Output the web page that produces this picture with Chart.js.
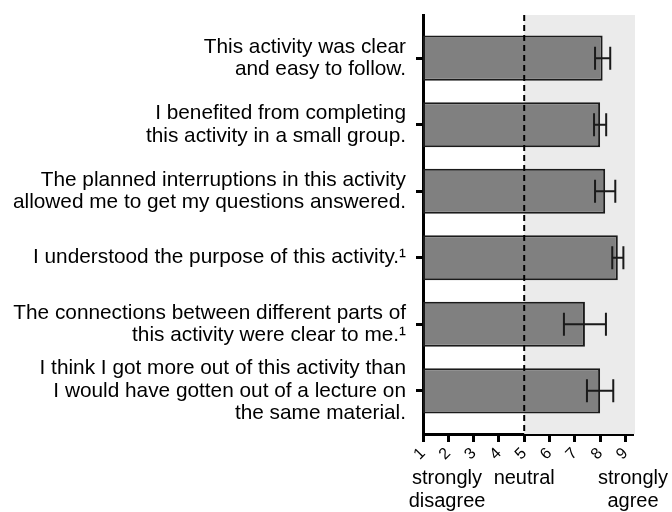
<!DOCTYPE html>
<html>
<head>
<meta charset="utf-8">
<script src="https://cdn.jsdelivr.net/npm/chart.js@4/dist/chart.umd.min.js"></script>
<style>
  html, body { margin: 0; padding: 0; background: #fff; }
  #wrap { width: 672px; height: 512px; }
</style>
</head>
<body>
<div id="wrap"><canvas id="chart" width="672" height="512"></canvas></div>
<script>
// survey statements (y axis)
const statements = [
    ['This activity was clear', 'and easy to follow.'],
    ['I benefited from completing', 'this activity in a small group.'],
    ['The planned interruptions in this activity', 'allowed me to get my questions answered.'],
    ['I understood the purpose of this activity.\u00b9'],
    ['The connections between different parts of', 'this activity were clear to me.\u00b9'],
    ['I think I got more out of this activity than', 'I would have gotten out of a lecture on', 'the same material.']
];

// mean rating and error (1-9 scale)
const means = [8.1, 8.0, 8.2, 8.7, 7.4, 8.0];
const errors = [0.3, 0.24, 0.4, 0.22, 0.83, 0.52];

const scaleTicks = [1, 2, 3, 4, 5, 6, 7, 8, 9];
const anchorLabels = [
    { value: 1.95, lines: ['strongly', 'disagree'] },
    { value: 5, lines: ['neutral'] },
    { value: 9.3, lines: ['strongly', 'agree'] }
];
const neutralValue = 5;

const fontFamily = "'Liberation Sans', Arial, sans-serif";

// shaded agree region + dashed neutral line + error bars + anchor labels
const decorations = {
    id: 'decorations',
    beforeDatasetsDraw(chart) {
        const { ctx, chartArea, scales } = chart;
        const x5 = scales.x.getPixelForValue(neutralValue);
        ctx.save();
        ctx.fillStyle = '#ebebeb';
        ctx.fillRect(x5, chartArea.top, chartArea.right + 2 - x5, chartArea.bottom - chartArea.top);
        ctx.restore();
    },
    afterDatasetsDraw(chart) {
        const { ctx, chartArea, scales } = chart;
        const x5 = scales.x.getPixelForValue(neutralValue);
        ctx.save();
        ctx.strokeStyle = '#000';
        ctx.lineWidth = 2;
        ctx.setLineDash([6, 4]);
        ctx.beginPath();
        ctx.moveTo(x5, chartArea.top);
        ctx.lineTo(x5, chartArea.bottom);
        ctx.stroke();
        ctx.setLineDash([]);

        // error bars
        ctx.strokeStyle = '#1a1a1a';
        ctx.lineWidth = 2;
        means.forEach((m, i) => {
            const y = scales.y.getPixelForValue(i);
            const xl = scales.x.getPixelForValue(m - errors[i]);
            const xr = scales.x.getPixelForValue(m + errors[i]);
            ctx.beginPath();
            ctx.moveTo(xl, y);
            ctx.lineTo(xr, y);
            ctx.moveTo(xl, y - 11.5);
            ctx.lineTo(xl, y + 11.5);
            ctx.moveTo(xr, y - 11.5);
            ctx.lineTo(xr, y + 11.5);
            ctx.stroke();
        });

        // anchor labels under the axis
        ctx.fillStyle = '#000';
        ctx.font = '20px ' + fontFamily;
        ctx.textAlign = 'center';
        ctx.textBaseline = 'middle';
        anchorLabels.forEach(a => {
            const x = scales.x.getPixelForValue(a.value);
            a.lines.forEach((line, k) => {
                ctx.fillText(line, x, 478 + k * 23);
            });
        });
        ctx.restore();
    }
};

const ctx = document.getElementById('chart').getContext('2d');
const chart = new Chart(ctx, {
    type: 'bar',
    data: {
        datasets: [{
            data: means.map((m, i) => ({ x: [1, m], y: i })),
            backgroundColor: '#808080',
            borderColor: '#1a1a1a',
            borderWidth: 2,
            borderSkipped: false,
            barPercentage: 0.68,
            categoryPercentage: 1
        }]
    },
    options: {
        indexAxis: 'y',
        responsive: false,
        animation: false,
        layout: { padding: { top: 15, right: 39, left: 0, bottom: 0 } },
        plugins: {
            legend: { display: false },
            tooltip: { enabled: false }
        },
        scales: {
            x: {
                type: 'linear',
                min: 1,
                max: 9.3,
                offset: false,
                afterFit(scale) {
                    scale.height = 78;
                    scale.paddingLeft = 0;
                    scale.paddingRight = 0;
                },
                afterBuildTicks(scale) {
                    scale.ticks = scaleTicks.map(v => ({ value: v }));
                },
                border: { color: '#000', width: 3 },
                grid: {
                    drawOnChartArea: false,
                    drawTicks: true,
                    offset: false,
                    tickLength: 8,
                    tickColor: '#000',
                    tickWidth: 3
                },
                ticks: {
                    color: '#000',
                    font: { family: fontFamily, size: 16 },
                    minRotation: 45,
                    maxRotation: 45,
                    autoSkip: false,
                    padding: 2
                }
            },
            y: {
                type: 'linear',
                reverse: true,
                min: -0.65,
                max: 5.65,
                offset: false,
                afterFit(scale) {
                    scale.width = 423;
                    scale.paddingTop = 0;
                    scale.paddingBottom = 0;
                },
                afterBuildTicks(scale) {
                    scale.ticks = statements.map((s, i) => ({ value: i }));
                },
                border: { color: '#000', width: 3 },
                grid: {
                    drawOnChartArea: false,
                    drawTicks: true,
                    offset: false,
                    tickLength: 7,
                    tickColor: '#000',
                    tickWidth: 3
                },
                ticks: {
                    color: '#000',
                    font: { family: fontFamily, size: 20.8, lineHeight: 1.1 },
                    autoSkip: false,
                    padding: 10,
                    callback: (value) => statements[value] || ''
                }
            }
        }
    },
    plugins: [decorations]
});
</script>
</body>
</html>
